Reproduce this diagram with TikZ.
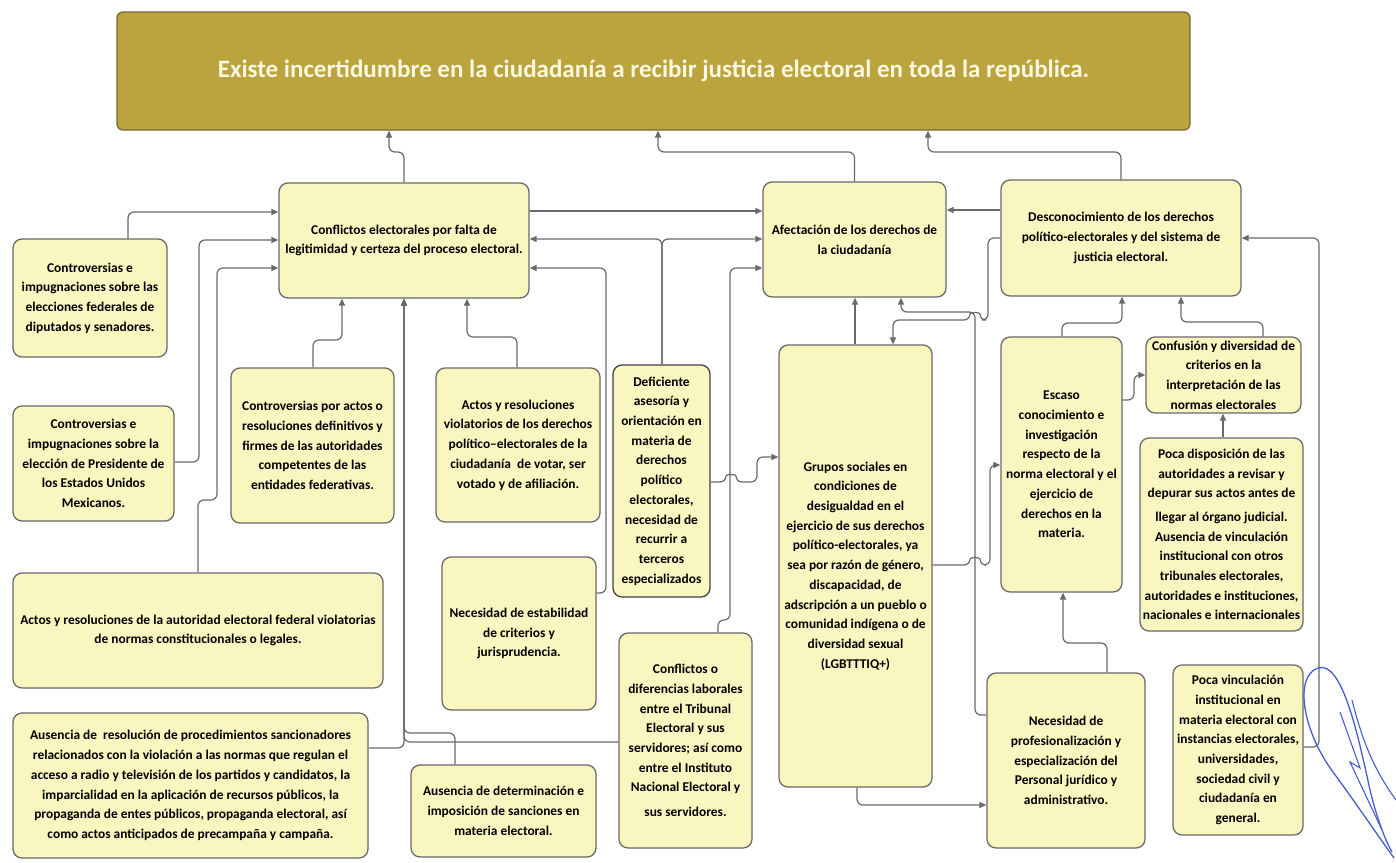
\documentclass[tikz,border=0pt]{standalone}
\usepackage{fontspec}
\setmainfont{Carlito}
\usetikzlibrary{arrows.meta}
\definecolor{boxfill}{RGB}{249,246,192}
\definecolor{boxline}{RGB}{105,105,105}
\definecolor{linegray}{RGB}{105,105,105}
\definecolor{topfill}{RGB}{187,164,62}
\definecolor{topline}{RGB}{120,105,50}
\definecolor{toptext}{RGB}{252,248,225}
\definecolor{inkblue}{RGB}{70,95,205}

\begin{document}
\begin{tikzpicture}[x=1pt, y=-1pt,
  box/.style={draw=boxline, fill=boxfill, line width=1.3pt, rounded corners=9pt, align=center,
    inner sep=2pt, text=black, font=\fontsize{13.4}{19.7}\selectfont\bfseries},
  topbox/.style={draw=topline, fill=topfill, line width=1.3pt, rounded corners=6pt,
    text=toptext, font=\fontsize{25}{30}\selectfont\bfseries},
  conn/.style={draw=linegray, line width=1.2pt, rounded corners=6pt, -{Triangle[length=7pt,width=6pt]}}]

\fill[white] (0,0) rectangle (1396,862);
\useasboundingbox (0,0) rectangle (1396,862);

\node[topbox, minimum width=1073, minimum height=118] (top) at (653.5,71)
  {Existe incertidumbre en la ciudadanía a recibir justicia electoral en toda la república.};

\node[box, minimum width=250, minimum height=115] (conf) at (404,240.5)
  {Conflictos electorales por falta de\\legitimidad y certeza del proceso electoral.};
\node[box, minimum width=183, minimum height=115] (afec) at (854.5,239.5)
  {Afectación de los derechos de\\la ciudadanía};
\node[box, minimum width=240, minimum height=116] (desc) at (1121,238)
  {Desconocimiento de los derechos\\político-electorales y del sistema de\\justicia electoral.};

\node[box, minimum width=154, minimum height=118] (ctrl1) at (90,298)
  {Controversias e\\impugnaciones sobre las\\elecciones federales de\\diputados y senadores.};
\node[box, minimum width=161, minimum height=115] (ctrl2) at (93.5,463.5)
  {Controversias e\\impugnaciones sobre la\\elección de Presidente de\\los Estados Unidos\\Mexicanos.};
\node[box, minimum width=370, minimum height=115] (actosfed) at (198,630.5)
  {Actos y resoluciones de la autoridad electoral federal violatorias\\de normas constitucionales o legales.};
\node[box, minimum width=355, minimum height=145] (ausres) at (190.5,785.5)
  {Ausencia de\ \ resolución de procedimientos sancionadores\\relacionados con la violación a las normas que regulan el\\acceso a radio y televisión de los partidos y candidatos, la\\imparcialidad en la aplicación de recursos públicos, la\\propaganda de entes públicos, propaganda electoral, así\\como actos anticipados de precampaña y campaña.};

\node[box, minimum width=163, minimum height=155] (ctrlact) at (312.5,445.5)
  {Controversias por actos o\\resoluciones definitivos y\\firmes de las autoridades\\competentes de las\\entidades federativas.};
\node[box, minimum width=164, minimum height=154] (actviol) at (518,445)
  {Actos y resoluciones\\violatorios de los derechos\\político–electorales de la\\ciudadanía\ \ de votar, ser\\votado y de afiliación.};
\node[box, minimum width=154, minimum height=153] (necest) at (519,633.5)
  {Necesidad de estabilidad\\de criterios y\\jurisprudencia.};
\node[box, draw=black!75, minimum width=97, minimum height=232] (defic) at (661.5,481)
  {Deficiente\\asesoría y\\orientación en\\materia de\\derechos\\político\\electorales,\\necesidad de\\recurrir a\\terceros\\especializados};
\node[box, minimum width=133, minimum height=215] (conflab) at (685.5,740.5)
  {Conflictos o\\diferencias laborales\\entre el Tribunal\\Electoral y sus\\servidores; así como\\entre el Instituto\\Nacional Electoral y\\[5pt]sus servidores.};
\node[box, minimum width=185, minimum height=92] (ausdet) at (503.5,811)
  {Ausencia de determinación e\\imposición de sanciones en\\materia electoral.};

\node[box, minimum width=153, minimum height=442] (grupos) at (855.5,566)
  {Grupos sociales en\\condiciones de\\desigualdad en el\\ejercicio de sus derechos\\político-electorales, ya\\sea por razón de género,\\discapacidad, de\\adscripción a un pueblo o\\comunidad indígena o de\\diversidad sexual\\(LGBTTTIQ+)};
\node[box, minimum width=121, minimum height=255] (escaso) at (1061.5,464.5)
  {Escaso\\conocimiento e\\investigación\\respecto de la\\norma electoral y el\\ejercicio de\\derechos en la\\materia.};
\node[box, minimum width=155, minimum height=76] (confus) at (1223.5,375)
  {Confusión y diversidad de\\criterios en la\\interpretación de las\\normas electorales};
\node[box, minimum width=163, minimum height=193] (pocadisp) at (1221.5,534.5)
  {Poca disposición de las\\autoridades a revisar y\\depurar sus actos antes de\\[4pt]llegar al órgano judicial.\\Ausencia de vinculación\\institucional con otros\\tribunales electorales,\\autoridades e instituciones,\\nacionales e internacionales};
\node[box, minimum width=158, minimum height=175] (necprof) at (1066,760.5)
  {Necesidad de\\profesionalización y\\especialización del\\Personal jurídico y\\administrativo.};
\node[box, minimum width=130, minimum height=170] (pocavinc) at (1238,750)
  {Poca vinculación\\institucional en\\materia electoral con\\instancias electorales,\\universidades,\\sociedad civil y\\ciudadanía en\\general.};

\draw[conn] (conf.north) |- (389,152) -- (top.south -| 389,0);
\draw[conn] (afec.north) |- (658,152) -- (top.south -| 658,0);
\draw[conn] (desc.north) |- (928,152) -- (top.south -| 928,0);

\draw[conn] (conf.east |- 0,211) -- (afec.west |- 0,211);
\draw[conn] (defic.north -| 662,0) |- (conf.east |- 0,239);
\draw[conn] (defic.north -| 662,0) |- (afec.west |- 0,239);
\draw[conn] (necest.east |- 0,593) -| (606,268) -- (conf.east |- 0,268);
\draw[conn] (conflab.north -| 718,0) -- (718,620) -| (730,268) -- (afec.west |- 0,268);

\draw[conn] (ctrl1.north -| 128,0) |- (conf.west |- 0,212);
\draw[conn] (ctrl2.east |- 0,462) -| (199,240) -- (conf.west |- 0,240);
\draw[conn] (actosfed.north -| 198,0) -- (198,500) -| (217,268) -- (conf.west |- 0,268);
\draw[conn] (ctrlact.north -| 313,0) -- (313,340) -| (conf.south -| 342,0);
\draw[conn] (actviol.north -| 517,0) -- (517,337) -| (conf.south -| 467,0);
\draw[conn] (ausres.east |- 0,748) -| (conf.south -| 404,0);
\draw[conn] (ausdet.north -| 455,0) |- (404,733) -- (conf.south -| 404,0);
\draw[conn] (conflab.west |- 0,742) -| (conf.south -| 404,0);

\draw[conn] (desc.west |- 0,210) -- (afec.east |- 0,210);
\draw[conn] (grupos.north -| 855,0) -- (afec.south -| 855,0);
\draw[conn] (necprof.west |- 0,715) -| (975,312) -| (afec.south -| 901,0);
\draw[conn] (desc.west |- 0,238) -| (988,320) -- (980,320) .. controls (980,312) and (970,312) .. (970,320) -| (grupos.north -| 893,0);
\draw[conn] (defic.east |- 0,482) -- (726,482) .. controls (726,474) and (736,474) .. (736,482) -- (757,482) |- (grupos.west |- 0,457);
\draw[conn] (grupos.east |- 0,565) -- (970,565) .. controls (970,557) and (980,557) .. (980,565) -| (990,465) -- (escaso.west |- 0,465);
\draw[conn] (grupos.south -| 857,0) |- (necprof.west |- 0,805);

\draw[conn] (escaso.north -| 1062,0) -- (1062,323) -| (desc.south -| 1122,0);
\draw[conn] (confus.north -| 1263,0) -- (1263,322) -| (desc.south -| 1181,0);
\draw[conn] (escaso.east |- 0,400) -| (1134,375) -- (confus.west |- 0,375);
\draw[conn] (pocadisp.north -| 1223,0) -- (confus.south -| 1223,0);
\draw[conn] (necprof.north -| 1107,0) -- (1107,643) -| (escaso.south -| 1063,0);
\draw[conn] (pocavinc.east |- 0,747) -| (1319,238) -- (desc.east |- 0,238);

\draw[inkblue, line width=1.3pt] (1318,668) .. controls (1294,676) and (1302,730) .. (1333,772) .. controls (1358,806) and (1378,836) .. (1394,858);
\draw[inkblue, line width=1.3pt] (1318,668) .. controls (1342,660) and (1358,735) .. (1370,790) .. controls (1376,815) and (1384,838) .. (1392,852);
\draw[inkblue, line width=1.1pt] (1340,712) -- (1360,768) -- (1350,762) -- (1382,830);
\draw[inkblue, line width=1.1pt] (1352,700) .. controls (1362,740) and (1374,770) .. (1396,800);

\end{tikzpicture}
\end{document}
